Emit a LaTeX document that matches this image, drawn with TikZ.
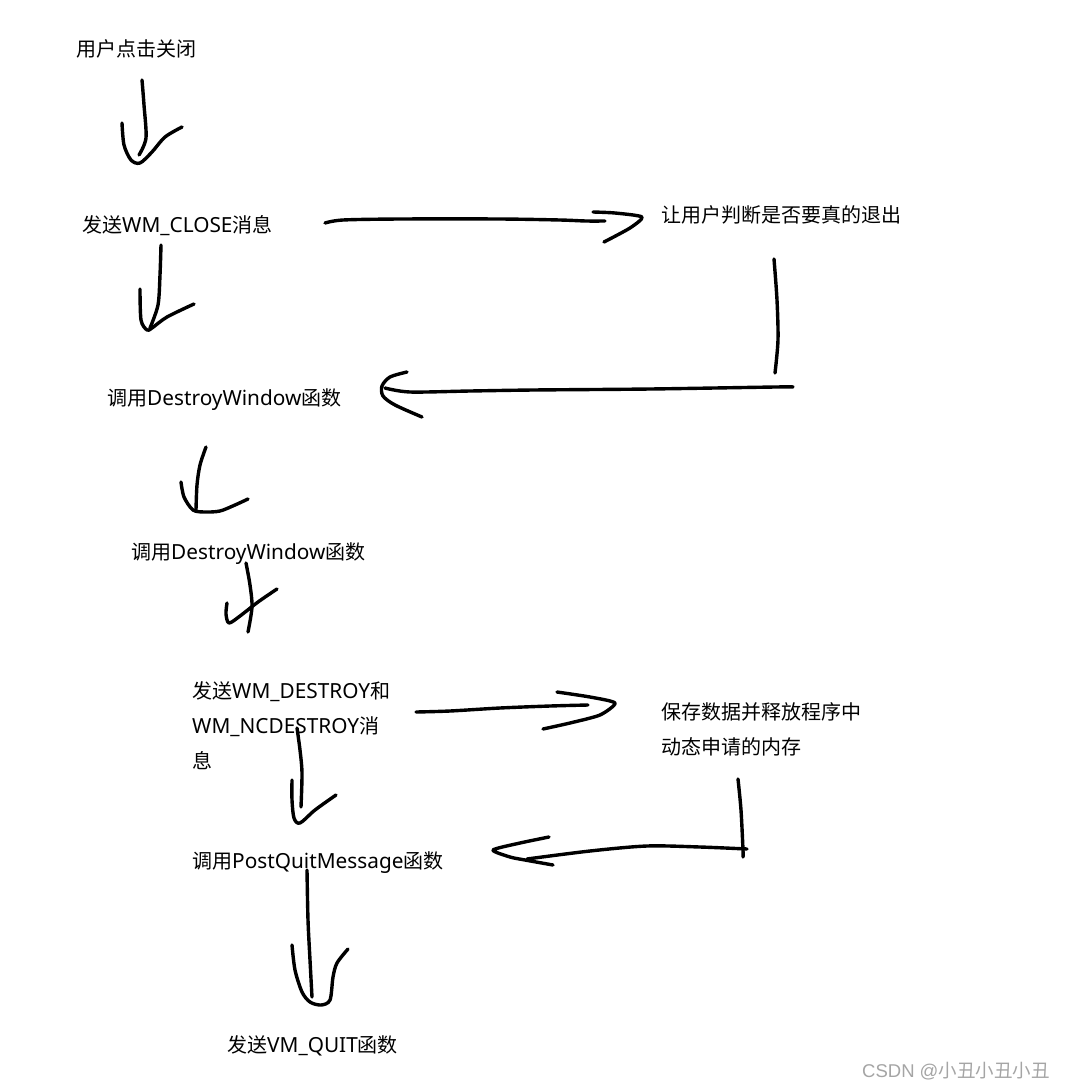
\documentclass[tikz,border=0pt]{standalone}
\usepackage{fontspec}
\setmainfont{Noto Sans}[Scale=1.04]
\newfontfamily\zhfont{Noto Sans CJK SC}
\newfontfamily\wmfont{Liberation Sans}
\newcommand{\zh}[1]{{\zhfont #1}}
\definecolor{wmgray}{RGB}{165,165,165}
\usetikzlibrary{calc}

\tikzset{
    lbl/.style={anchor=base west, inner sep=0pt, align=left,
        font=\fontsize{20}{35}\selectfont},
    pen/.style={line width=3.4pt, line cap=round, line join=round}
}

\begin{document}
\begin{tikzpicture}[x=1pt, y=-1pt]
    \useasboundingbox (0,0) rectangle (1066,1090);
    \fill[white] (0,0) rectangle (1066,1090);

    % the steps (base = baseline of the last line)
    \node[lbl] (click)   at (76,56.5)  {\zh{用户点击关闭}};
    \node[lbl] (close)   at (82,232)   {\zh{发送}WM\_CLOSE\zh{消息}};
    \node[lbl] (ask)     at (661,222)  {\zh{让用户判断是否要真的退出}};
    \node[lbl] (destroy) at (107,405)  {\zh{调用}DestroyWindow\zh{函数}};
    \node[lbl] (destroyb) at (131,559) {\zh{调用}DestroyWindow\zh{函数}};
    \node[lbl] (wmdes)   at (192,768)  {\zh{发送}WM\_DESTROY\zh{和}\\WM\_NCDESTROY\zh{消}\\\zh{息}};
    \node[lbl] (save)    at (661,754)  {\zh{保存数据并释放程序中}\\\zh{动态申请的内存}};
    \node[lbl] (postq)   at (192,868)  {\zh{调用}PostQuitMessage\zh{函数}};
    \node[lbl] (quit)    at (227,1052) {\zh{发送}VM\_QUIT\zh{函数}};
    \node[anchor=base west, inner sep=0pt, text=wmgray, font=\fontsize{18.5}{20}\selectfont]
        (mark) at (862,1077) {\wmfont CSDN @\zh{小丑小丑小丑}};

    % hand drawn arrows, top to bottom
    \draw[pen] plot[smooth] coordinates {(142,80) (144,105) (146,138) (139,155)};
    \draw[pen] plot[smooth] coordinates {(122,123) (124,145) (131,160) (140,163) (152,152) (165,137) (182,127)};

    \draw[pen] plot[smooth] coordinates {(161,245) (160,275) (158,305) (150,328)};
    \draw[pen] plot[smooth] coordinates {(140,289) (141,320) (147,330) (152,328) (167,317) (194,304)};

    \draw[pen] plot[smooth] coordinates {(325,223) (343,220) (400,219) (500,219) (560,220) (586,221) (605,221)};
    \draw[pen] plot[smooth, tension=0.4] coordinates {(593,212) (615,213) (642,217) (630,228) (604,242)};

    \draw[pen] plot[smooth] coordinates {(774,259) (777,300) (778,340) (775,373)};
    \draw[pen] plot[smooth] coordinates {(793,387) (775,387) (650,389) (533,390) (470,391) (410,392) (385,388)};
    \draw[pen] plot[smooth] coordinates {(407,372) (390,377) (382,386) (383,396) (395,405) (422,417)};

    \draw[pen] plot[smooth] coordinates {(206,447) (200,465) (197,485) (196,510)};
    \draw[pen] plot[smooth] coordinates {(181,482) (184,497) (193,510) (205,512) (220,511) (235,505) (248,499)};

    \draw[pen] plot[smooth] coordinates {(246,563) (250,585) (252,607) (248,632)};
    \draw[pen] plot[smooth] coordinates {(227,603) (226,614) (229,623) (240,616) (258,602) (277,589)};

    \draw[pen] plot[smooth] coordinates {(416,712) (450,711) (500,708) (550,706) (588,705)};
    \draw[pen] plot[smooth, tension=0.4] coordinates {(557,692) (590,697) (615,703) (600,715) (570,723) (543,729)};

    \draw[pen] plot[smooth] coordinates {(297,728) (300,750) (302,773) (301,807)};
    \draw[pen] plot[smooth] coordinates {(292,780) (292,800) (294,818) (300,823) (315,810) (336,795)};

    \draw[pen] plot[smooth] coordinates {(738,779) (741,810) (743,850) (743,857)};
    \draw[pen] plot[smooth] coordinates {(747,849) (700,847) (647,846) (590,851) (527,859)};
    \draw[pen] plot[smooth, tension=0.4] coordinates {(549,837) (520,843) (493,850) (510,857) (525,860) (553,865)};

    \draw[pen] plot[smooth] coordinates {(307,870) (308,920) (310,960) (312,997)};
    \draw[pen] plot[smooth] coordinates {(292,945) (295,970) (302,992) (310,1002) (321,1005) (330,1000) (333,977) (337,963) (348,949)};
\end{tikzpicture}
\end{document}
